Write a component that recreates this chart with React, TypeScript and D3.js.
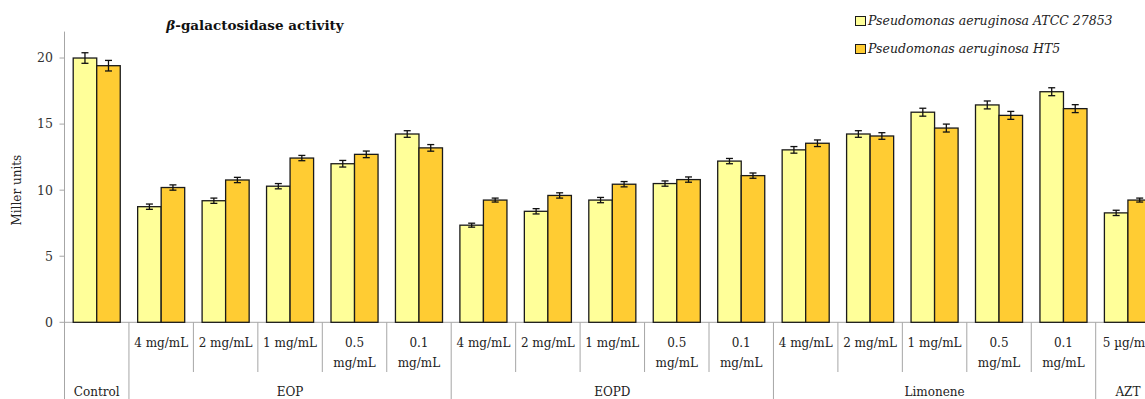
import React, { useRef, useEffect } from "react";
import * as d3 from "d3";

// tick labels along the x axis (one per category)
const concLabels = ["4 mg/mL", "2 mg/mL", "1 mg/mL", "0.5 mg/mL", "0.1 mg/mL"];
const groups = [
  { name: "Control", labels: [""] },
  { name: "EOP", labels: concLabels },
  { name: "EOPD", labels: concLabels },
  { name: "Limonene", labels: concLabels },
  { name: "AZT", labels: ["5 µg/mL"] },
];
const seriesNames = ["Pseudomonas aeruginosa ATCC 27853", "Pseudomonas aeruginosa HT5"];
const seriesColors = ["#FFFF99", "#FFCC33"];

// Miller units
const atccValues = [20.0, 8.75, 9.2, 10.3, 12.0, 14.25, 7.35, 8.4, 9.25, 10.5, 12.2, 13.05, 14.25, 15.9, 16.45, 17.45, 8.28];
const ht5Values = [19.42, 10.2, 10.77, 12.43, 12.71, 13.2, 9.25, 9.6, 10.45, 10.8, 11.1, 13.55, 14.1, 14.7, 15.66, 16.17, 9.25];
const atccErr = [0.4, 0.2, 0.2, 0.2, 0.25, 0.25, 0.15, 0.2, 0.2, 0.2, 0.2, 0.25, 0.25, 0.3, 0.3, 0.3, 0.2];
const ht5Err = [0.4, 0.2, 0.2, 0.2, 0.25, 0.25, 0.15, 0.2, 0.2, 0.2, 0.2, 0.25, 0.25, 0.3, 0.3, 0.3, 0.15];
const yTicks = [0, 5, 10, 15, 20];

const FONT = "'DejaVu Serif', serif";

export default function App() {
  const svgRef = useRef<SVGSVGElement>(null);

  useEffect(() => {
    const svg = d3.select(svgRef.current);
    svg.selectAll("*").remove();

    const cats: { label: string; group: number }[] = [];
    groups.forEach((g, gi) => g.labels.forEach((l) => cats.push({ label: l, group: gi })));
    const n = cats.length;

    const left = 64.5;
    const step = 64.45;
    const x0 = d3.scaleBand<number>().domain(d3.range(n)).range([left, left + n * step]);
    const x1 = d3.scaleBand<number>().domain([0, 1]).range([0, x0.bandwidth()]).paddingOuter(0.37);
    const y = d3.scaleLinear().domain([0, 22]).range([322.3, 31.6]);
    const grey = "#A6A6A6";

    // y axis
    svg.append("line").attr("x1", left).attr("x2", left).attr("y1", y(22)).attr("y2", 399)
      .attr("stroke", grey).attr("stroke-width", 1);
    yTicks.forEach((t) => {
      svg.append("line").attr("x1", left - 5).attr("x2", left).attr("y1", y(t)).attr("y2", y(t))
        .attr("stroke", grey);
      svg.append("text").attr("x", 53).attr("y", y(t)).attr("dy", "0.35em")
        .attr("text-anchor", "end").attr("font-family", FONT).attr("font-size", 12.5)
        .attr("fill", "#333").text(t);
    });
    svg.append("text")
      .attr("transform", `translate(21,${y(10)}) rotate(-90)`)
      .attr("text-anchor", "middle").attr("font-family", FONT).attr("font-size", 12)
      .attr("fill", "#222").text("Miller units");

    // x axis line
    svg.append("line").attr("x1", left).attr("x2", 1145).attr("y1", y(0)).attr("y2", y(0))
      .attr("stroke", grey);

    // category separators and labels
    cats.forEach((c, i) => {
      const xr = x0(i)! + x0.bandwidth();
      const last = i === n - 1 || cats[i + 1].group !== c.group;
      svg.append("line").attr("x1", xr).attr("x2", xr).attr("y1", y(0)).attr("y2", last ? 399 : 372)
        .attr("stroke", grey);
      const cx = x0(i)! + x0.bandwidth() / 2;
      const lines = c.label.length > 7 ? c.label.split(" ") : [c.label];
      lines.forEach((ln, li) => {
        svg.append("text").attr("x", cx).attr("y", 347 + li * 20)
          .attr("text-anchor", "middle").attr("font-family", FONT).attr("font-size", 12)
          .attr("fill", "#222").text(ln);
      });
    });
    groups.forEach((g, gi) => {
      const idx = cats.map((c, i) => (c.group === gi ? i : -1)).filter((i) => i >= 0);
      const cx = (x0(idx[0])! + x0(idx[idx.length - 1])! + x0.bandwidth()) / 2;
      svg.append("text").attr("x", cx).attr("y", 396)
        .attr("text-anchor", "middle").attr("font-family", FONT).attr("font-size", 12)
        .attr("fill", "#222").text(g.name);
    });

    // bars + error bars
    const series = [
      { values: atccValues, err: atccErr },
      { values: ht5Values, err: ht5Err },
    ];
    series.forEach((s, si) => {
      s.values.forEach((v, i) => {
        const bx = x0(i)! + x1(si)!;
        const bw = x1.bandwidth();
        svg.append("rect").attr("x", bx).attr("y", y(v)).attr("width", bw).attr("height", y(0) - y(v))
          .attr("fill", seriesColors[si]).attr("stroke", "#1a1a1a").attr("stroke-width", 1.3);
        const cx = bx + bw / 2;
        const e = s.err[i];
        const g = svg.append("g").attr("stroke", "#111").attr("stroke-width", 1.3);
        g.append("line").attr("x1", cx).attr("x2", cx).attr("y1", y(v + e)).attr("y2", y(v - e));
        g.append("line").attr("x1", cx - 3.5).attr("x2", cx + 3.5).attr("y1", y(v + e)).attr("y2", y(v + e));
        g.append("line").attr("x1", cx - 3.5).attr("x2", cx + 3.5).attr("y1", y(v - e)).attr("y2", y(v - e));
      });
    });

    // title
    const title = svg.append("text").attr("x", 255).attr("y", 30).attr("text-anchor", "middle")
      .attr("font-family", FONT).attr("font-size", 13.5).attr("font-weight", "bold").attr("fill", "#111");
    title.append("tspan").attr("font-style", "italic").text("β");
    title.append("tspan").text("-galactosidase activity");

    // legend
    seriesNames.forEach((name, si) => {
      const ly = 21 + si * 28;
      svg.append("rect").attr("x", 855.5).attr("y", ly - 4.5).attr("width", 10).attr("height", 9)
        .attr("fill", seriesColors[si]).attr("stroke", "#1a1a1a").attr("stroke-width", 1);
      svg.append("text").attr("x", 868).attr("y", ly).attr("dy", "0.35em")
        .attr("font-family", FONT).attr("font-size", 12.5).attr("font-style", "italic")
        .attr("fill", "#222").text(name);
    });
  }, []);

  return (
    <svg
      ref={svgRef}
      width={1145}
      height={399}
      style={{ position: "absolute", left: 0, top: 0, background: "#fff" }}
    ></svg>
  );
}
